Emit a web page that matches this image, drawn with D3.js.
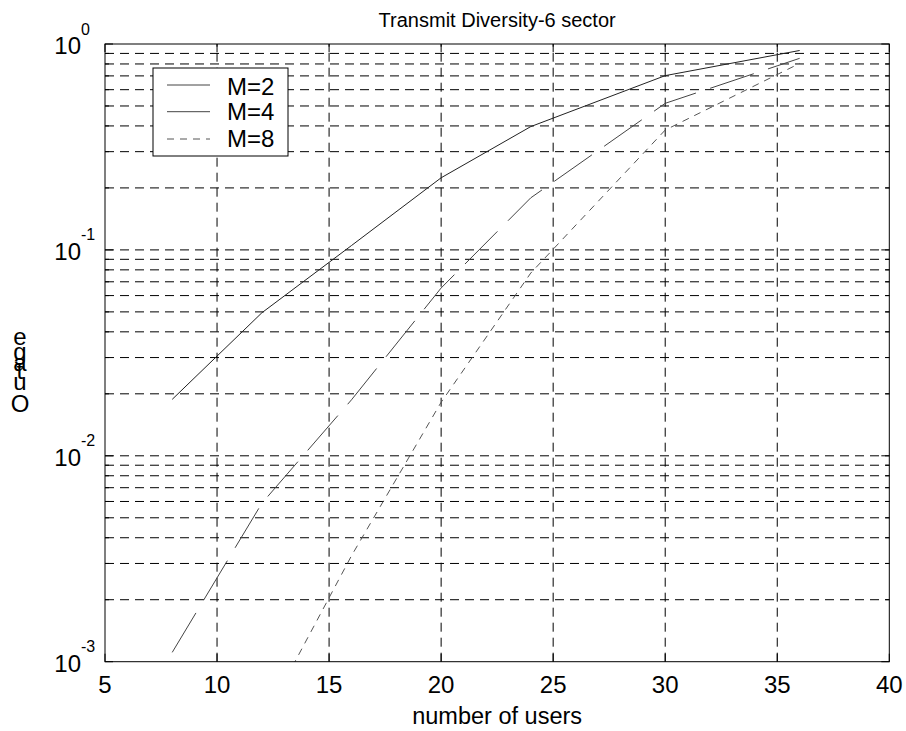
<!DOCTYPE html>
<html><head><meta charset="utf-8">
<script src="https://cdn.jsdelivr.net/npm/d3@7"></script>
<style>body{margin:0;background:#fff} text{font-family:"Liberation Sans",Arial,sans-serif;fill:#000}</style>
</head><body><svg id="c" width="906" height="731"></svg>
<script>
const users = [8, 12, 16, 20, 24, 30, 36];
const seriesNames = ["M=2", "M=4", "M=8"];
const outageM2 = [0.0188, 0.0495, 0.105, 0.224, 0.397, 0.702, 0.93];
const outageM4 = [0.00111, 0.00588, 0.0187, 0.0653, 0.179, 0.515, 0.852];
const outageM8 = [null, 0.0005, 0.00327, 0.0182, 0.0772, 0.382, 0.805];
const xTicks = [5, 10, 15, 20, 25, 30, 35, 40];
const yExponents = [-3, -2, -1, 0];
const titleText = "Transmit Diversity-6 sector";
const xLabelText = "number of users";
const yLabelText = "Outage";

const svg = d3.select("#c");
const L = 105, R = 889.3, T = 44, B = 661.7;
const x = d3.scaleLinear().domain([5, 40]).range([L, R]);
const y = d3.scaleLog().domain([1e-3, 1]).range([B, T]);

const minorVals = [];
yExponents.slice(0, 3).forEach(e => { for (let k = 1; k <= 9; k++) minorVals.push(k * Math.pow(10, e)); });

svg.append("defs").append("clipPath").attr("id", "clip")
  .append("rect").attr("x", L).attr("y", T).attr("width", R - L).attr("height", B - T);

// grid
const grid = svg.append("g").attr("stroke", "#000").attr("stroke-width", 1).attr("stroke-dasharray", "9,6").attr("fill", "none");
grid.selectAll(".vg").data(xTicks.slice(1, -1)).join("line")
  .attr("x1", d => x(d)).attr("x2", d => x(d)).attr("y1", B).attr("y2", T);
grid.selectAll(".hg").data(minorVals.filter(v => v > 1.5e-3)).join("line")
  .attr("x1", L).attr("x2", R).attr("y1", d => y(d)).attr("y2", d => y(d));

// series
const series = [
  {name: seriesNames[0], vals: outageM2, color: "#222", dash: null},
  {name: seriesNames[1], vals: outageM4, color: "#444", dash: "46,15"},
  {name: seriesNames[2], vals: outageM8, color: "#555", dash: "7,6"}
];
const line = d3.line().defined(d => d[1] != null).x(d => x(d[0])).y(d => y(d[1]));
const plot = svg.append("g").attr("clip-path", "url(#clip)");
series.forEach(s => {
  plot.append("path").datum(users.map((u, i) => [u, s.vals[i]]))
    .attr("d", line).attr("fill", "none").attr("stroke", s.color).attr("stroke-width", 1)
    .attr("stroke-dasharray", s.dash);
});

// axes box
svg.append("rect").attr("x", L).attr("y", T).attr("width", R - L).attr("height", B - T)
  .attr("fill", "none").attr("stroke", "#000").attr("stroke-width", 1);

// ticks (inside)
const tk = svg.append("g").attr("stroke", "#000").attr("stroke-width", 1);
xTicks.forEach(v => {
  tk.append("line").attr("x1", x(v)).attr("x2", x(v)).attr("y1", B).attr("y2", B - 8);
  tk.append("line").attr("x1", x(v)).attr("x2", x(v)).attr("y1", T).attr("y2", T + 8);
});
minorVals.concat([1]).forEach(v => {
  const len = (Math.abs(Math.log10(v) - Math.round(Math.log10(v))) < 1e-9) ? 8 : 4;
  tk.append("line").attr("x1", L).attr("x2", L + len).attr("y1", y(v)).attr("y2", y(v));
  tk.append("line").attr("x1", R).attr("x2", R - len).attr("y1", y(v)).attr("y2", y(v));
});

// x tick labels
svg.append("g").selectAll("text").data(xTicks).join("text")
  .attr("x", d => x(d)).attr("y", 693).attr("text-anchor", "middle")
  .attr("font-size", 24).text(d => d);

// y tick labels
const yl = svg.append("g");
yExponents.forEach(e => {
  const yy = y(Math.pow(10, e));
  yl.append("text").attr("x", 81).attr("y", yy + 10).attr("text-anchor", "end").attr("font-size", 24).text("10");
  yl.append("text").attr("x", 81).attr("y", yy - 9.5).attr("text-anchor", "start").attr("font-size", 16).text(String(e));
});

// title & labels
svg.append("text").attr("x", (L + R) / 2).attr("y", 27).attr("text-anchor", "middle").attr("font-size", 20).text(titleText);
svg.append("text").attr("x", (L + R) / 2).attr("y", 724).attr("text-anchor", "middle").attr("font-size", 23.5).text(xLabelText);

// stacked (overprinted) y-label as one text element with per-glyph positions
const chars = yLabelText.split("");
const yBase = [412, 390, 379, 371, 360, 345];
const xCent = [20, 20, 20, 20, 20, 20];
const widths = [18.7, 13.3, 6.7, 13.3, 13.3, 13.3];
svg.append("text").attr("font-size", 24)
  .attr("x", chars.map((c, i) => (xCent[i] - widths[i] / 2).toFixed(1)).join(" "))
  .attr("y", yBase.join(" "))
  .text(yLabelText);

// legend
const lg = svg.append("g");
lg.append("rect").attr("x", 153).attr("y", 68).attr("width", 135).attr("height", 88)
  .attr("fill", "#fff").attr("stroke", "#000").attr("stroke-width", 1);
const legY = [85, 111.7, 139];
const legBase = [95, 120, 146.5];
series.forEach((s, i) => {
  lg.append("line").attr("x1", 167).attr("x2", 210).attr("y1", legY[i]).attr("y2", legY[i])
    .attr("stroke", i === 0 ? "#444" : s.color).attr("stroke-width", 1).attr("stroke-dasharray", s.dash);
  lg.append("text").attr("x", 227).attr("y", legBase[i]).attr("font-size", 24).text(s.name);
});
</script></body></html>
